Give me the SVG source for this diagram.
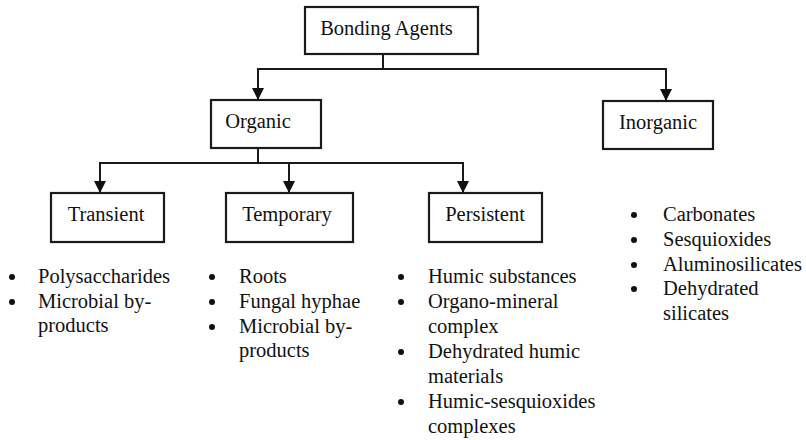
<svg xmlns="http://www.w3.org/2000/svg" width="806" height="440" viewBox="0 0 806 440">
  <style>
    .box { fill: #ffffff; stroke: #1a1a1a; stroke-width: 2.2; }
    .link { fill: none; stroke: #1a1a1a; stroke-width: 2; }
    .dot { fill: #111111; }
  </style>
  <defs>
    <marker id="arrow" viewBox="0 0 12 12" refX="12" refY="6" markerWidth="12" markerHeight="12" markerUnits="userSpaceOnUse" orient="auto">
      <path d="M0,0 L12,6 L0,12 Z" fill="#111111"/>
    </marker>
  </defs>

  <!-- connectors -->
  <g id="connectors">
    <path class="link" d="M383,54 V69 H258 V100" marker-end="url(#arrow)"/>
    <path class="link" d="M383,69 H666 V101" marker-end="url(#arrow)"/>
    <path class="link" d="M258,148 V163 H100 V193" marker-end="url(#arrow)"/>
    <path class="link" d="M258,163 H289 V193" marker-end="url(#arrow)"/>
    <path class="link" d="M289,163 H463 V193" marker-end="url(#arrow)"/>
  </g>

  <g font-family="Liberation Serif, Tinos, Times New Roman, Times, Noto Serif, DejaVu Serif, serif" font-size="20.5" fill="#111111">
  <!-- nodes -->
  <g id="bonding-agents">
    <rect class="box" x="305" y="7" width="173" height="47"/>
    <text x="386.5" y="35" text-anchor="middle">Bonding Agents</text>
  </g>
  <g id="organic">
    <rect class="box" x="211" y="100" width="110" height="48"/>
    <text x="258" y="128" text-anchor="middle">Organic</text>
  </g>
  <g id="inorganic">
    <rect class="box" x="603" y="101" width="110" height="48"/>
    <text x="658" y="129" text-anchor="middle">Inorganic</text>
  </g>
  <g id="transient">
    <rect class="box" x="51" y="193" width="113" height="49"/>
    <text x="106" y="221" text-anchor="middle">Transient</text>
  </g>
  <g id="temporary">
    <rect class="box" x="226" y="193" width="127" height="49"/>
    <text x="287" y="221" text-anchor="middle">Temporary</text>
  </g>
  <g id="persistent">
    <rect class="box" x="429" y="193" width="113" height="49"/>
    <text x="485" y="221" text-anchor="middle">Persistent</text>
  </g>

  <!-- bullet lists -->
  <g id="transient-list">
    <circle class="dot" cx="12" cy="277" r="3"/>
    <circle class="dot" cx="12" cy="302" r="3"/>
    <text x="38" y="283">Polysaccharides</text>
    <text x="38" y="308">Microbial by-</text>
    <text x="38" y="332">products</text>
  </g>
  <g id="temporary-list">
    <circle class="dot" cx="212" cy="277" r="3"/>
    <circle class="dot" cx="212" cy="302" r="3"/>
    <circle class="dot" cx="212" cy="327" r="3"/>
    <text x="239" y="283">Roots</text>
    <text x="239" y="308">Fungal hyphae</text>
    <text x="239" y="333">Microbial by-</text>
    <text x="239" y="357">products</text>
  </g>
  <g id="persistent-list">
    <circle class="dot" cx="401" cy="277" r="3"/>
    <circle class="dot" cx="401" cy="302" r="3"/>
    <circle class="dot" cx="401" cy="352" r="3"/>
    <circle class="dot" cx="401" cy="402" r="3"/>
    <text x="428" y="283">Humic substances</text>
    <text x="428" y="308">Organo-mineral</text>
    <text x="428" y="333">complex</text>
    <text x="428" y="358">Dehydrated humic</text>
    <text x="428" y="383">materials</text>
    <text x="428" y="408">Humic-sesquioxides</text>
    <text x="428" y="433">complexes</text>
  </g>
  <g id="inorganic-list">
    <circle class="dot" cx="634" cy="215" r="3"/>
    <circle class="dot" cx="634" cy="240" r="3"/>
    <circle class="dot" cx="634" cy="265" r="3"/>
    <circle class="dot" cx="634" cy="289" r="3"/>
    <text x="663" y="221">Carbonates</text>
    <text x="663" y="246">Sesquioxides</text>
    <text x="663" y="271">Aluminosilicates</text>
    <text x="663" y="295">Dehydrated</text>
    <text x="663" y="320">silicates</text>
  </g>
  </g>
</svg>
